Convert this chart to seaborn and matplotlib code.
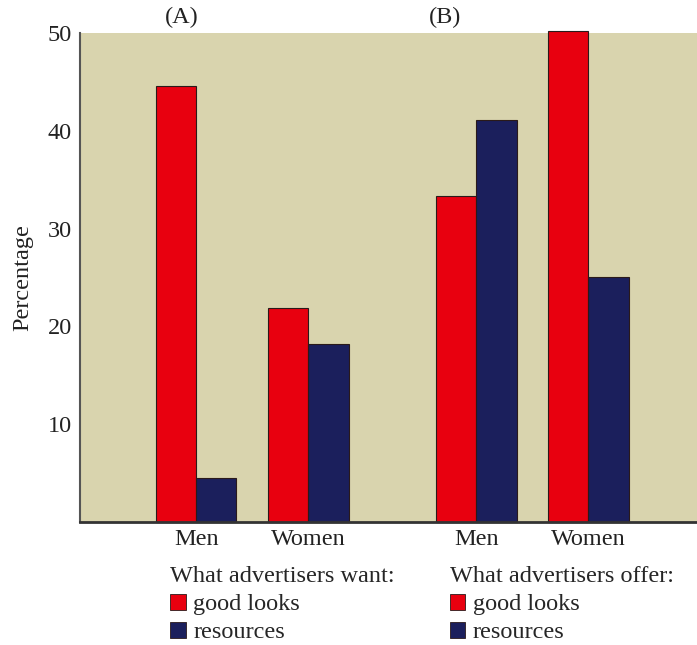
import pandas as pd
import matplotlib
matplotlib.use("Agg")
import matplotlib.pyplot as plt
import seaborn as sns
from matplotlib.patches import Patch

sns.set_theme(style="white")
plt.rcParams['font.family'] = ['Liberation Serif', 'DejaVu Serif']

# Data
groups = ["Men", "Women", "Men", "Women"]
panels = ["(A)", "(B)"]
positions = [0, 1, 2.5, 3.5]
good_looks = [44.6, 21.9, 33.3, 50.2]
resources = [4.5, 18.2, 41.1, 25.1]
items = ["good looks", "resources"]
legend_titles = ["What advertisers want:", "What advertisers offer:"]

RED = "#e8000f"
NAVY = "#1b1f5c"
BG = "#d9d4ae"
TXT = "#222222"
FS = 17.5

df = pd.DataFrame({
    "pos": positions * 2,
    "value": good_looks + resources,
    "item": [items[0]] * 4 + [items[1]] * 4,
})

fig = plt.figure(figsize=(6.97, 6.45), dpi=100)
ax = fig.add_axes([0.1148, 0.1907, 0.8852, 0.7581])
ax.set_facecolor(BG)

sns.barplot(data=df, x="pos", y="value", hue="item", native_scale=True,
            width=0.72, palette=[RED, NAVY], saturation=1,
            edgecolor="#2a1a1a", linewidth=0.8, legend=False, ax=ax)
for p in ax.patches:
    p.set_clip_on(False)

ax.set_xlim(-1.036, 4.47)
ax.set_ylim(0, 50)
ax.set_xticks(positions)
ax.set_xticklabels(groups, fontsize=FS, color=TXT)
ax.set_yticks([10, 20, 30, 40, 50])
ax.set_yticklabels(["10", "20", "30", "40", "50"], fontsize=FS, color=TXT)
ax.tick_params(axis="y", direction="in", length=9, width=1.2, color="#444444", pad=6)
ax.tick_params(axis="x", length=0, pad=5)
ax.set_xlabel("")
ax.set_ylabel("Percentage", fontsize=FS, color=TXT, labelpad=10)

for s in ["top", "right"]:
    ax.spines[s].set_visible(False)
ax.spines["left"].set_color("#555555")
ax.spines["left"].set_linewidth(1.5)
ax.spines["bottom"].set_color("#333333")
ax.spines["bottom"].set_linewidth(2)

# panel labels
ax.text(-0.125, 50.5, panels[0], fontsize=FS, ha="center", va="bottom", color=TXT)
ax.text(2.22, 50.5, panels[1], fontsize=FS, ha="center", va="bottom", color=TXT)

handles = [Patch(facecolor=RED, edgecolor="#2a1a1a", linewidth=0.6),
           Patch(facecolor=NAVY, edgecolor="#2a1a1a", linewidth=0.6)]
anchors = [(0.244, 0.122), (0.645, 0.122)]
for title, anchor in zip(legend_titles, anchors):
    fig.legend(handles, items, title=title, loc="upper left",
               bbox_to_anchor=anchor, frameon=False, fontsize=FS,
               title_fontsize=FS, handlelength=0.65, handleheight=0.65,
               handletextpad=0.3, labelspacing=0.26, borderpad=0,
               borderaxespad=0, alignment="left")

fig.savefig("out.png", dpi=100)
